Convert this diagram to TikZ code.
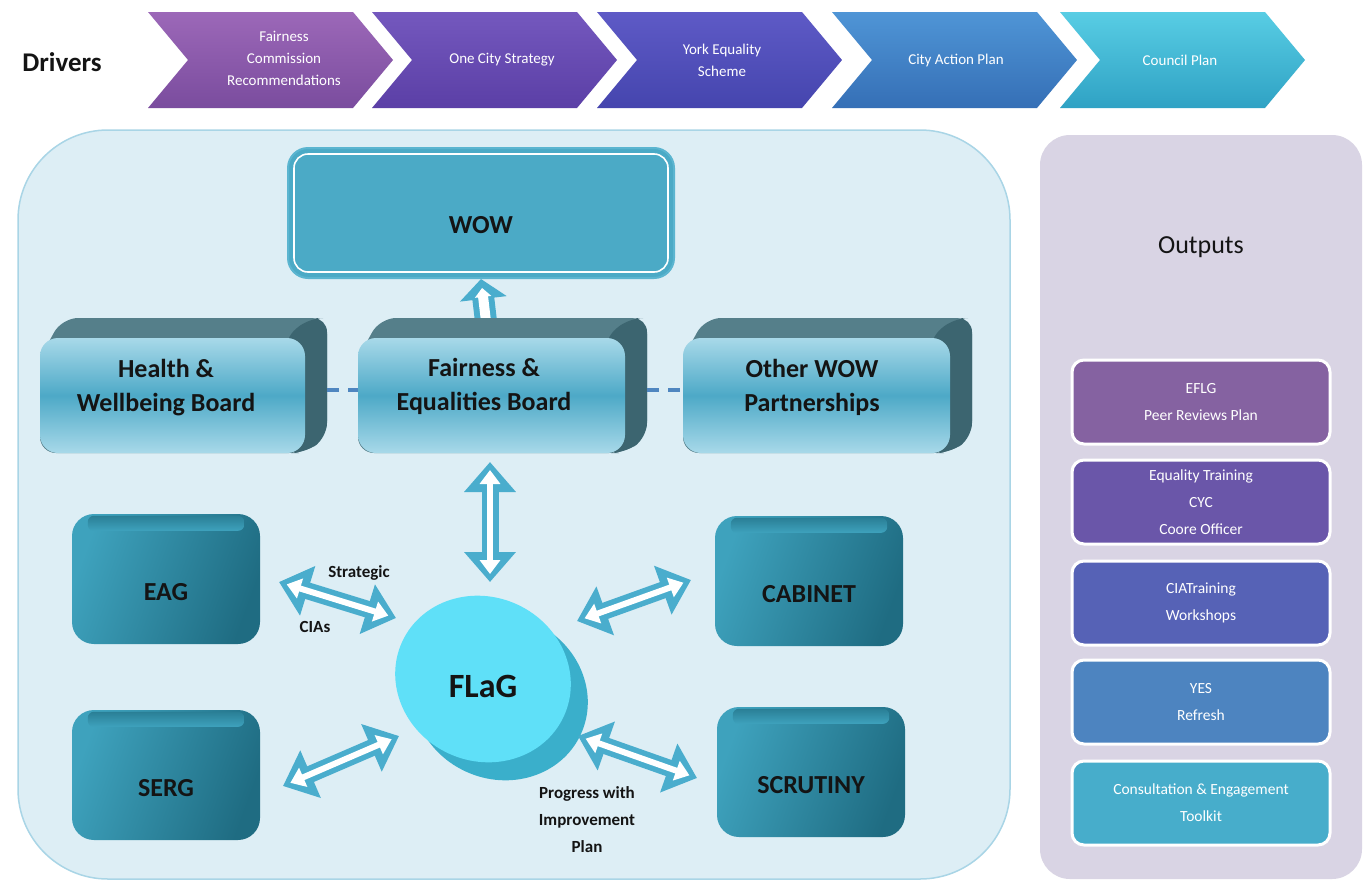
\documentclass[tikz,border=0pt]{standalone}
\usepackage{fontspec}
\setmainfont{Carlito}
\usetikzlibrary{arrows.meta,shapes.geometric}
\definecolor{panelblue}{HTML}{DDEEF5}
\definecolor{panelborder}{HTML}{A9D5E6}
\definecolor{outpanel}{HTML}{D9D4E4}
\definecolor{arrowblue}{HTML}{4AADCD}
\definecolor{wowteal}{HTML}{4BAAC6}
\definecolor{wowrim}{HTML}{5BB5D0}
\definecolor{darktop}{HTML}{3EA2BD}
\definecolor{darkbot}{HTML}{1F6C82}
\definecolor{rimcol}{HTML}{2A7F96}
\definecolor{boardback}{HTML}{557F8A}
\definecolor{boardside}{HTML}{3C6570}
\definecolor{facelight}{HTML}{A8D9E9}
\definecolor{facemid}{HTML}{4DA9C7}
\definecolor{txtdark}{HTML}{141414}
\definecolor{flagface}{HTML}{5FE0F8}
\definecolor{flagside}{HTML}{3AAFCB}
\definecolor{dashblue}{HTML}{4F86C0}
\definecolor{cAa}{HTML}{9C68B8}\definecolor{cAb}{HTML}{7A4C9E}
\definecolor{cBa}{HTML}{7458BE}\definecolor{cBb}{HTML}{5B3FA6}
\definecolor{cCa}{HTML}{5E5AC6}\definecolor{cCb}{HTML}{4545AE}
\definecolor{cDa}{HTML}{4F95D6}\definecolor{cDb}{HTML}{356FB6}
\definecolor{cEa}{HTML}{58CDE4}\definecolor{cEb}{HTML}{2FA2C4}
\definecolor{oA}{HTML}{8562A1}
\definecolor{oB}{HTML}{6A56A9}
\definecolor{oC}{HTML}{5662B6}
\definecolor{oD}{HTML}{4D84C0}
\definecolor{oE}{HTML}{47ADCB}
\newcommand{\chevron}[3]{%
  \shade[top color=#2, bottom color=#3] (#1,12) -- ++(205,0) -- ++(40,48) -- ++(-40,48) -- ++(-205,0) -- ++(40,-48) -- cycle;}
\newcommand{\boardbk}[4]{%
  \fill[boardback, rounded corners=16pt] (#1,#2+20) -- (#1+22,#2-20) -- (#3+22,#2-20) -- (#3+22,#4-16) -- (#3,#4) -- (#1,#4) -- cycle;
  \fill[boardside, rounded corners=14pt] (#3-20,#2) -- (#3+4,#2-20) -- (#3+22,#2-20) -- (#3+22,#4-16) -- (#3,#4) -- (#3-20,#4) -- cycle;}
\newcommand{\dblarrow}[2]{%
  \draw[line width=17pt, arrowblue, {Triangle[length=30pt,width=50pt]}-{Triangle[length=30pt,width=50pt]}] (#1) -- (#2);
  \draw[line width=6pt, white, shorten <=8pt, shorten >=8pt, {Triangle[length=14pt,width=20pt]}-{Triangle[length=14pt,width=20pt]}] (#1) -- (#2);}
\begin{document}
\begin{tikzpicture}[x=1pt,y=-1pt,
  chevtext/.style={text=white, font=\fontsize{15}{22}\selectfont, align=center, inner sep=0pt},
  boardface/.style={rounded corners=18pt, top color=facelight, bottom color=facelight, middle color=facemid},
  boardtext/.style={text=txtdark, font=\bfseries\fontsize{26}{34}\selectfont, align=center, inner sep=0pt},
  darkbox/.style={rounded corners=22pt, left color=darktop, right color=darkbot, shading angle=70, text=txtdark, font=\bfseries\fontsize{26}{30}\selectfont, minimum width=188pt, minimum height=130pt, text height=44pt},
  outbox/.style={rounded corners=12pt, draw=white, line width=3pt, minimum width=258pt, minimum height=84pt, text=white, font=\fontsize{15.5}{27}\selectfont, align=center},
  lbl/.style={text=txtdark, font=\bfseries\fontsize{17}{27}\selectfont, align=center, inner sep=0pt}]
\useasboundingbox (0,0) rectangle (1372,881);
\fill[white] (0,0) rectangle (1372,881);

% Drivers row
\node[font=\bfseries\fontsize{27}{30}\selectfont, text=txtdark] (drivers) at (62,62) {Drivers};
\chevron{148}{cAa}{cAb}
\chevron{372}{cBa}{cBb}
\chevron{597}{cCa}{cCb}
\chevron{832}{cDa}{cDb}
\chevron{1060}{cEa}{cEb}
\node[chevtext] (t1) at (284,58) {Fairness\\Commission\\Recommendations};
\node[chevtext] (t2) at (502,60) {One City Strategy};
\node[chevtext] (t3) at (722,60) {York Equality\\Scheme};
\node[chevtext] (t4) at (956,60) {City Action Plan};
\node[chevtext] (t5) at (1180,60) {Council Plan};

% Panels
\draw[fill=panelblue, draw=panelborder, line width=1.5pt, rounded corners=90pt] (18,130) rectangle (1010,879);
\fill[outpanel, rounded corners=30pt] (1040,135) rectangle (1362,879);
\node[font=\fontsize{26}{30}\selectfont, text=txtdark] (outputs) at (1201,247) {Outputs};

% Output boxes
\node[outbox, fill=oA] (o1) at (1201,402) {EFLG\\Peer Reviews Plan};
\node[outbox, fill=oB] (o2) at (1201,502) {Equality Training\\CYC\\Coore Officer};
\node[outbox, fill=oC] (o3) at (1201,603) {CIATraining\\Workshops};
\node[outbox, fill=oD] (o4) at (1201,702) {YES\\Refresh};
\node[outbox, fill=oE] (o5) at (1201,803) {Consultation \& Engagement\\Toolkit};

% WOW
\node[rounded corners=20pt, fill=wowteal, draw=wowrim, line width=2pt, minimum width=386pt, minimum height=130pt] (wow) at (481,213) {};
\draw[white, line width=1.6pt, rounded corners=14pt] ([shift={(7pt,-7pt)}]wow.north west) rectangle ([shift={(-7pt,7pt)}]wow.south east);
\node[font=\bfseries\fontsize{26}{30}\selectfont, text=txtdark] (wowt) at (481,225) {WOW};

% up arrow (behind board)
\coordinate (upfrom) at (487,330);
\draw[line width=22pt, arrowblue, -{Triangle[length=20pt,width=46pt]}] (upfrom) -- (wow.south);
\draw[line width=10pt, white, shorten >=9pt, -{Triangle[length=9pt,width=16pt]}] (upfrom) -- (wow.south);

% Boards
\boardbk{40}{338}{305}{453}
\boardbk{358}{338}{625}{453}
\boardbk{683}{338}{950}{453}
\node[boardface, minimum width=265pt, minimum height=115pt] (hw) at (172.5,395.5) {};
\node[boardface, minimum width=267pt, minimum height=115pt] (fe) at (491.5,395.5) {};
\node[boardface, minimum width=267pt, minimum height=115pt] (ow) at (816.5,395.5) {};
\node[boardtext] (hwt) at (166,388) {Health \&\\Wellbeing Board};
\node[boardtext] (fet) at (484,386) {Fairness \&\\Equalities Board};
\node[boardtext] (owt) at (812,387) {Other WOW\\Partnerships};
\coordinate (d1a) at (327,390); \coordinate (d1b) at (358,390);
\coordinate (d2a) at (647,390); \coordinate (d2b) at (683,390);
\draw[dashblue, line width=3.5pt, dash pattern=on 12pt off 9pt] (d1a) -- (d1b);
\draw[dashblue, line width=3.5pt, dash pattern=on 12pt off 9pt] (d2a) -- (d2b);

% Dark boxes
\node[darkbox] (eag) at (166,579) {EAG};
\node[darkbox] (serg) at (166,775) {SERG};
\node[darkbox] (cab) at (809,581) {CABINET};
\node[darkbox] (scr) at (811,772) {SCRUTINY};
\foreach \b in {eag,serg,cab,scr}{
  \shade[top color=rimcol, bottom color=darktop, rounded corners=6pt] ([shift={(16pt,-2pt)}]\b.north west) rectangle ([shift={(-16pt,-17pt)}]\b.north east);
}

% FLaG disk
\node[ellipse, fill=flagside, minimum width=178pt, minimum height=164pt, rotate=-25] (flagside) at (500,697) {};
\node[ellipse, fill=flagface, minimum width=178pt, minimum height=164pt, rotate=-25] (flag) at (483,679) {};
\node[font=\bfseries\fontsize{34}{40}\selectfont, text=txtdark] (flagt) at (483,686) {FLaG};

% Arrows
\coordinate (fedown) at (490,462); \coordinate (flagup) at (490,582);
\dblarrow{fedown}{flagup}
\coordinate (eagA) at (279,582); \coordinate (eagB) at (396,618);
\dblarrow{eagA}{eagB}
\coordinate (sergA) at (283,786); \coordinate (sergB) at (399,736);
\dblarrow{sergA}{sergB}
\coordinate (cabA) at (577,621); \coordinate (cabB) at (691,580);
\dblarrow{cabA}{cabB}
\coordinate (scrA) at (578,736); \coordinate (scrB) at (697,778);
\dblarrow{scrA}{scrB}

% Labels
\node[lbl] (strat) at (359,573) {Strategic};
\node[lbl] (cias) at (315,627) {CIAs};
\node[lbl] (prog) at (587,820) {Progress with\\Improvement\\Plan};
\end{tikzpicture}
\end{document}
